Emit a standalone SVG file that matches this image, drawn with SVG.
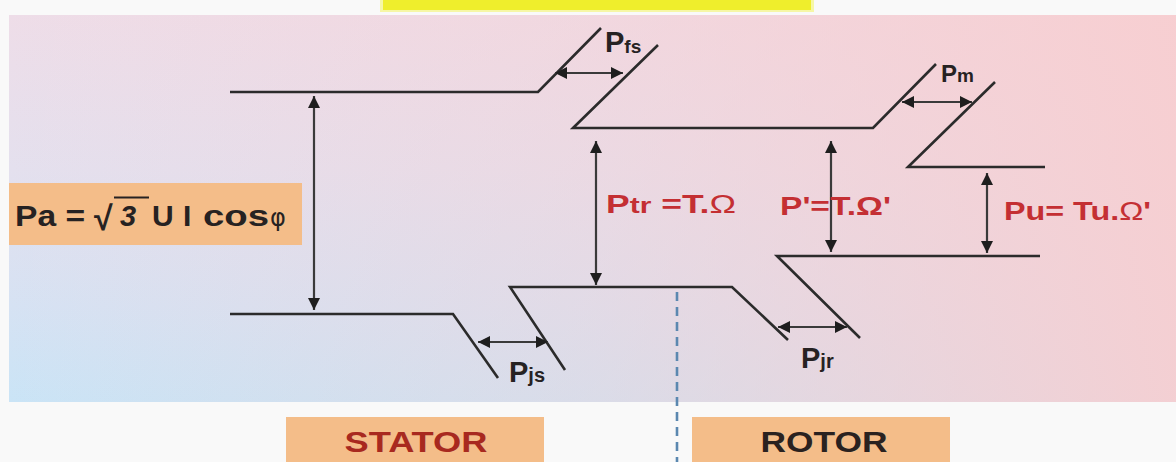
<svg xmlns="http://www.w3.org/2000/svg" width="1176" height="462" viewBox="0 0 1176 462">
<style>
.ln{fill:none;stroke:#2b2b2b;stroke-width:2.6;stroke-linejoin:miter}
.ar{fill:none;stroke:#3a3a3a;stroke-width:2.2}
.lbl{font-family:"Liberation Sans",Arial,sans-serif;font-weight:bold;fill:#262222}
.red{font-family:"Liberation Sans",Arial,sans-serif;font-weight:bold;fill:#c42f33}
.box{fill:#f4bd89}
</style>
<defs>
<linearGradient id="vbg" x1="0" y1="0" x2="0" y2="1">
<stop offset="0" stop-color="#eedde8"/>
<stop offset="0.4" stop-color="#e4e0ee"/>
<stop offset="0.75" stop-color="#d6e2f3"/>
<stop offset="1" stop-color="#cae4f6"/>
</linearGradient>
<linearGradient id="hbg" x1="0" y1="0" x2="1" y2="0">
<stop offset="0" stop-color="#f8cdcf" stop-opacity="0"/>
<stop offset="0.5" stop-color="#f8cdcf" stop-opacity="0.35"/>
<stop offset="1" stop-color="#f8cdcf" stop-opacity="0.9"/>
</linearGradient>
<marker id="ah" viewBox="0 0 12 12" markerUnits="userSpaceOnUse" markerWidth="12" markerHeight="12" refX="12" refY="6" orient="auto-start-reverse">
<path d="M0,0 L12,6 L0,12 z" fill="#1e1e1e"/>
</marker>
</defs>
<rect x="0" y="0" width="1176" height="462" fill="#f9f9f9"/>
<g id="title-bar">
<rect x="380" y="-2" width="434" height="14" fill="#f6f7a6"/>
<rect x="383" y="0" width="428" height="10" fill="#efee2c"/>
</g>
<g id="panel">
<rect x="9" y="15" width="1167" height="387" fill="url(#vbg)"/>
<rect x="9" y="15" width="1167" height="387" fill="url(#hbg)"/>
</g>
<g id="pa">
<rect class="box" x="9" y="183" width="293" height="62"/>
<text class="lbl" x="15" y="226" font-size="30"><tspan textLength="70" lengthAdjust="spacingAndGlyphs">Pa =</tspan></text>
<text class="lbl" x="94" y="230" font-size="34" font-weight="normal">√</text>
<line x1="114" y1="197.5" x2="149" y2="197.5" stroke="#262222" stroke-width="2"/>
<text class="lbl" x="120" y="226" font-size="29" font-style="italic">3</text>
<text class="lbl" x="152" y="226" font-size="30"><tspan x="152">U</tspan><tspan x="183">I</tspan><tspan x="203" textLength="66" lengthAdjust="spacingAndGlyphs">cos</tspan><tspan x="270" font-weight="normal" font-family="'DejaVu Sans',sans-serif" font-size="24">φ</tspan></text>
</g>
<g id="connectors">
<polyline class="ln" points="230,92 538,92 601,28"/>
<polyline class="ln" points="658,45 573,128 873,128 936,64"/>
<polyline class="ln" points="995,82 908,167 1045,167"/>
<polyline class="ln" points="860,338 777,256 1040,256"/>
<polyline class="ln" points="565,370 510,287 732,287 788,340"/>
<polyline class="ln" points="230,314 453,314 498,378"/>
<line class="ar" x1="314" y1="96" x2="314" y2="310" marker-start="url(#ah)" marker-end="url(#ah)"/>
<line class="ar" x1="596" y1="141" x2="596" y2="285" marker-start="url(#ah)" marker-end="url(#ah)"/>
<line class="ar" x1="831" y1="141" x2="831" y2="252" marker-start="url(#ah)" marker-end="url(#ah)"/>
<line class="ar" x1="987" y1="173" x2="987" y2="253" marker-start="url(#ah)" marker-end="url(#ah)"/>
<line class="ar" x1="555" y1="73" x2="623" y2="73" marker-start="url(#ah)" marker-end="url(#ah)"/>
<line class="ar" x1="902" y1="102" x2="972" y2="102" marker-start="url(#ah)" marker-end="url(#ah)"/>
<line class="ar" x1="478" y1="342" x2="548" y2="342" marker-start="url(#ah)" marker-end="url(#ah)"/>
<line class="ar" x1="778" y1="327" x2="847" y2="327" marker-start="url(#ah)" marker-end="url(#ah)"/>
<line x1="677" y1="292" x2="677" y2="462" stroke="#5b88b0" stroke-width="2.6" stroke-dasharray="9 6"/>
</g>
<g id="label-pfs"><text class="lbl" x="605" y="52" font-size="29">P<tspan font-size="19" dy="1">fs</tspan></text></g>
<g id="label-pm"><text class="lbl" x="941" y="82" font-size="24">P<tspan font-size="19">m</tspan></text></g>
<g id="label-pjs"><text class="lbl" x="509" y="382" font-size="29">P<tspan font-size="20">js</tspan></text></g>
<g id="label-pjr"><text class="lbl" x="801" y="368" font-size="29">P<tspan font-size="20">jr</tspan></text></g>
<g id="label-ptr"><text class="red" x="606" y="213" font-size="26" textLength="130" lengthAdjust="spacingAndGlyphs">P<tspan font-size="22">tr</tspan> =T.<tspan font-weight="normal">Ω</tspan></text></g>
<g id="label-pprime"><text class="red" x="780" y="215" font-size="26" textLength="111" lengthAdjust="spacingAndGlyphs">P'=T.Ω'</text></g>
<g id="label-pu"><text class="red" x="1004" y="220" font-size="26" textLength="147" lengthAdjust="spacingAndGlyphs">Pu= Tu.<tspan font-weight="normal">Ω</tspan>'</text></g>
<g id="stator">
<rect class="box" x="286" y="417" width="258" height="50"/>
<text x="416" y="452" text-anchor="middle" font-family="'Liberation Sans',Arial,sans-serif" font-weight="bold" font-size="29" fill="#a8291f" textLength="143" lengthAdjust="spacingAndGlyphs">STATOR</text>
</g>
<g id="rotor">
<rect class="box" x="692" y="417" width="258" height="50"/>
<text x="824" y="452" text-anchor="middle" font-family="'Liberation Sans',Arial,sans-serif" font-weight="bold" font-size="29" fill="#2a2220" textLength="127" lengthAdjust="spacingAndGlyphs">ROTOR</text>
</g>
</svg>
